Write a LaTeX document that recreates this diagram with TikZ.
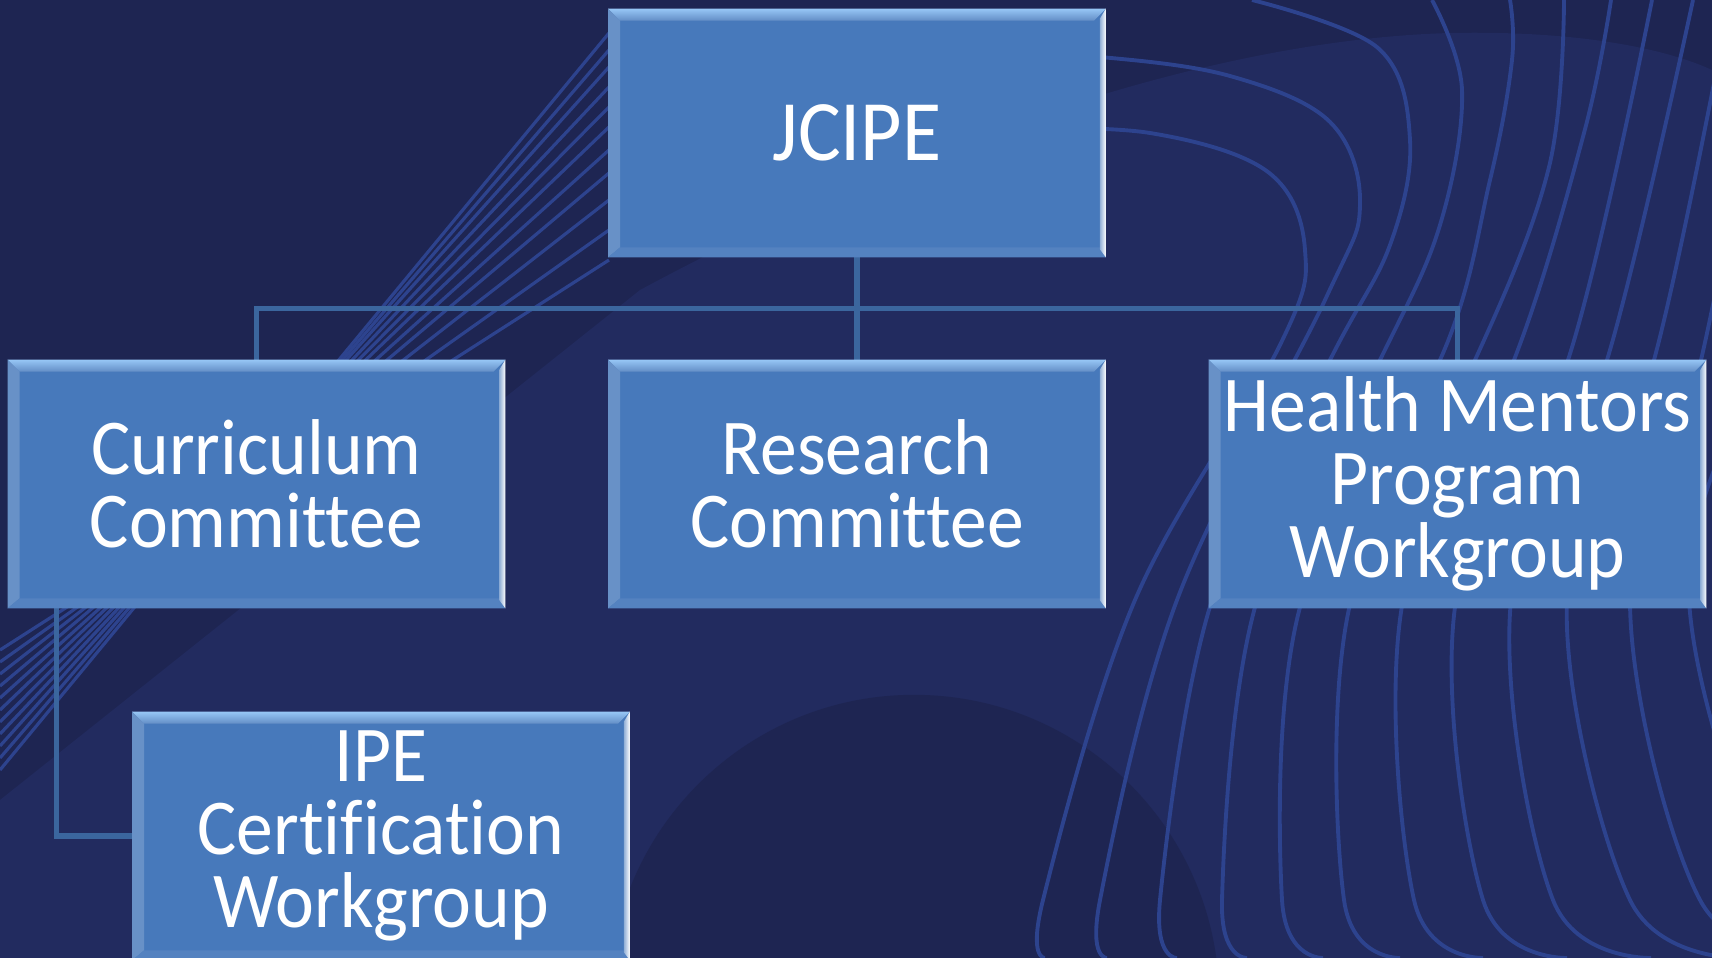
\documentclass[tikz,border=0pt]{standalone}
\usepackage{fontspec}
\setmainfont{Carlito}[FakeStretch=0.93, RawFeature={-liga;-clig;-dlig}]
\usetikzlibrary{calc}

\definecolor{bgdark}{RGB}{30,37,82}
\definecolor{bglight}{RGB}{34,43,95}
\definecolor{bgdeco}{RGB}{45,67,142}
\definecolor{boxblue}{RGB}{71,121,187}
\definecolor{boxhi}{RGB}{150,198,245}
\definecolor{linkblue}{RGB}{59,102,158}

% bevelled edges of an org chart box
\newcommand{\bevelbox}[1]{%
  \shade[top color=boxhi, bottom color=boxblue!85!white]
    (#1.north west) -- (#1.north east) -- ($(#1.north east)+(-12,12)$) -- ($(#1.north west)+(12,12)$) -- cycle;
  \fill[boxblue!82!white]
    (#1.north west) -- ($(#1.north west)+(12,12)$) -- ($(#1.south west)+(12,-10)$) -- (#1.south west) -- cycle;
  \fill[boxblue!93!white]
    (#1.south west) -- ($(#1.south west)+(12,-10)$) -- ($(#1.south east)+(-6,-10)$) -- (#1.south east) -- cycle;
  \shade[left color=boxblue!60!white, right color=white]
    (#1.north east) -- (#1.south east) -- ($(#1.south east)+(-6,-8)$) -- ($(#1.north east)+(-6,10)$) -- cycle;}

\begin{document}
\begin{tikzpicture}[x=0.01cm, y=-0.01cm,
  orgbox/.style={fill=boxblue, minimum width=4.96cm, minimum height=2.47cm, inner sep=0pt,
    align=center, text=white, font=\fontsize{22.5}{20.7}\selectfont},
  link/.style={draw=linkblue, line width=1.6pt},
  deco/.style={draw=bgdeco, line width=1.1pt}]

\useasboundingbox (0,0) rectangle (1712,958);
\fill[bgdark] (0,0) rectangle (1712,958);

% background swirls
\begin{scope}
\clip (0,0) rectangle (1712,958);
\fill[bglight] (0,800) -- (640,290) .. controls (900,150) and (1200,40) .. (1450,33)
  .. controls (1600,30) and (1680,55) .. (1712,70) -- (1712,958) -- (0,958) -- cycle;
\fill[bgdark] (914,1000) circle (3.05cm);
\foreach \ytop [count=\i] in {33,50,67,87,107,127,150,173,200,230,260}
  \draw[deco, line width=0.9pt] (609,\ytop) -- (0,{782-12*\i});
\draw[deco] plot[smooth, tension=0.6] coordinates {(1000,128) (1150,133) (1268,172) (1305,250) (1280,345) (1135,600) (1043,900) (1045,958)};
\draw[deco] plot[smooth, tension=0.6] coordinates {(1000,55) (1100,57) (1230,76) (1330,122) (1360,205) (1325,300) (1177,600) (1100,900) (1107,958)};
\draw[deco] plot[smooth, tension=0.6] coordinates {(1252,0) (1378,48) (1410,140) (1390,245) (1330,360) (1212,600) (1160,900) (1177,958)};
\draw[deco] plot[smooth, tension=0.6] coordinates {(1432,0) (1462,90) (1440,225) (1380,360) (1257,600) (1222,900) (1247,958)};
\draw[deco] plot[smooth, tension=0.6] coordinates {(1510,0) (1512,60) (1490,180) (1440,360) (1302,600) (1282,900) (1323,958)};
\draw[deco] plot[smooth, tension=0.6] coordinates {(1564,0) (1549,167) (1475,360) (1351,600) (1344,900) (1400,958)};
\draw[deco] plot[smooth, tension=0.6] coordinates {(1611,0) (1584,133) (1514,360) (1403,600) (1414,900) (1483,958)};
\draw[deco] plot[smooth, tension=0.6] coordinates {(1652,0) (1568,360) (1456,600) (1483,900) (1567,958)};
\draw[deco] plot[smooth, tension=0.6] coordinates {(1693,0) (1607,360) (1511,600) (1553,900) (1651,958)};
\draw[deco] plot[smooth, tension=0.6] coordinates {(1730,0) (1654,360) (1567,600) (1630,900) (1740,958)};
\draw[deco] plot[smooth, tension=0.6] coordinates {(1770,0) (1701,360) (1630,600) (1700,900) (1820,958)};
\draw[deco] plot[smooth, tension=0.6] coordinates {(1810,50) (1750,360) (1689,600) (1780,900) (1900,958)};
\end{scope}

% boxes
\node[orgbox] (jcipe) at (857,133) {\fontsize{24.5}{24}\selectfont JCIPE};
\node[orgbox] (curr) at (256.5,484) {Curriculum\\Committee};
\node[orgbox] (research) at (857,484) {Research\\Committee};
\node[orgbox] (health) at (1457.5,484) {Health Mentors\\Program\\Workgroup};
\node[orgbox] (ipe) at (381,836) {IPE\\Certification\\Workgroup};

% connectors
\coordinate (bus) at ($(jcipe.south)!0.5!(research.north)$);
\draw[link] (jcipe.south) -- (research.north);
\draw[link] (curr.north) |- (bus) -| (health.north);
\draw[link] ($(curr.south west)+(49,0)$) |- (ipe.west);

\foreach \b in {jcipe,curr,research,health,ipe}
  {\bevelbox{\b}}
\end{tikzpicture}
\end{document}
